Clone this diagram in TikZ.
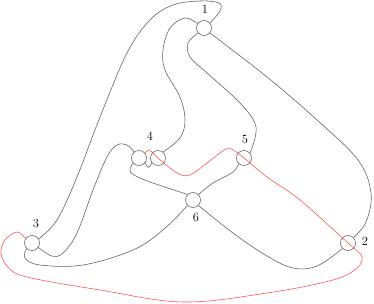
\documentclass[tikz,border=0pt]{standalone}
\begin{document}
\begin{tikzpicture}[x=1pt,y=-1pt,
  knot/.style={draw=black!65,line width=0.55pt},
  redline/.style={draw=red!70!white,line width=0.55pt},
  vtx/.style={circle,draw=black!65,line width=0.55pt,minimum size=15pt,inner sep=0pt},
  lab/.style={font=\fontsize{12.5}{14}\selectfont,inner sep=0pt}]
\useasboundingbox (0,0) rectangle (374,304);
\node[vtx] (c1) at (204,28) {};
\node[vtx] (c2) at (348,243) {};
\node[vtx] (c3) at (32,243) {};
\node[vtx] (c4a) at (139,158) {};
\node[vtx] (c4b) at (158,158) {};
\node[vtx] (c5) at (244,158) {};
\node[vtx] (c6) at (193,200) {};
\node[lab] (l1) at (205,9) {1};
\node[lab] (l2) at (365,241) {2};
\node[lab] (l3) at (36,223) {3};
\node[lab] (l4) at (150,136) {4};
\node[lab] (l5) at (245,139) {5};
\node[lab] (l6) at (196,217) {6};
% A
\draw[knot] plot[smooth,tension=0.6] coordinates {(c1.40) (220,11) (219,3) (200,1) (173,5) (150,20) (127,53) (100,117) (77,177) (57,220) (c3.32)};
% B
\draw[knot] plot[smooth,tension=0.6] coordinates {(c1.145) (185,18) (170,28) (163,50) (165,70) (180,97) (185,120) (180,138) (c4b.50)};
% C
\draw[knot] plot[smooth,tension=0.6] coordinates {(c1.220) (188,43) (190,57) (207,73) (240,103) (256,127) (c5.40)};
% D
\draw[knot] plot[smooth,tension=0.6] coordinates {(c1.-40) (267,77) (317,120) (358,160) (371,193) (366,222) (c2.45)};
% E
\draw[knot] plot[smooth,tension=0.6] coordinates {(c4a.130) (127,145) (117,145) (107,157) (93,190) (77,233) (63,253) (52,256) (c3.-35)};
% F
\draw[knot] plot[smooth,tension=0.6] coordinates {(c4a.220) (130,170) (134,175) (150,182) (180,192) (c6.135)};
% G
\draw[knot] plot[smooth,tension=0.6] coordinates {(c5.225) (233,172) (213,183) (c6.45)};
% H
\draw[knot] plot[smooth,tension=0.6] coordinates {(c6.225) (163,230) (133,250) (83,265) (40,265) (25,258) (c3.225)};
% I
\draw[knot] plot[smooth,tension=0.6] coordinates {(c6.-45) (233,233) (267,256) (293,268) (317,266) (c2.225)};
% lens between the two circles of 4
\draw[knot] (c4a.-35) .. controls (147,169) and (150,169) .. (c4b.215);
% red
\draw[redline] plot[smooth,tension=0.6] coordinates {(c3.145) (17,232) (5,240) (1,253) (8,267) (27,277) (100,290) (183,302) (267,293) (333,280) (357,268) (362,257) (355,249) (c2.center) (300,200) (267,177) (c5.center) (233,150) (226,149) (207,163) (190,175) (177,173) (c4b.center) (152,152) (148,150) (c4a.35)};
\end{tikzpicture}
\end{document}
